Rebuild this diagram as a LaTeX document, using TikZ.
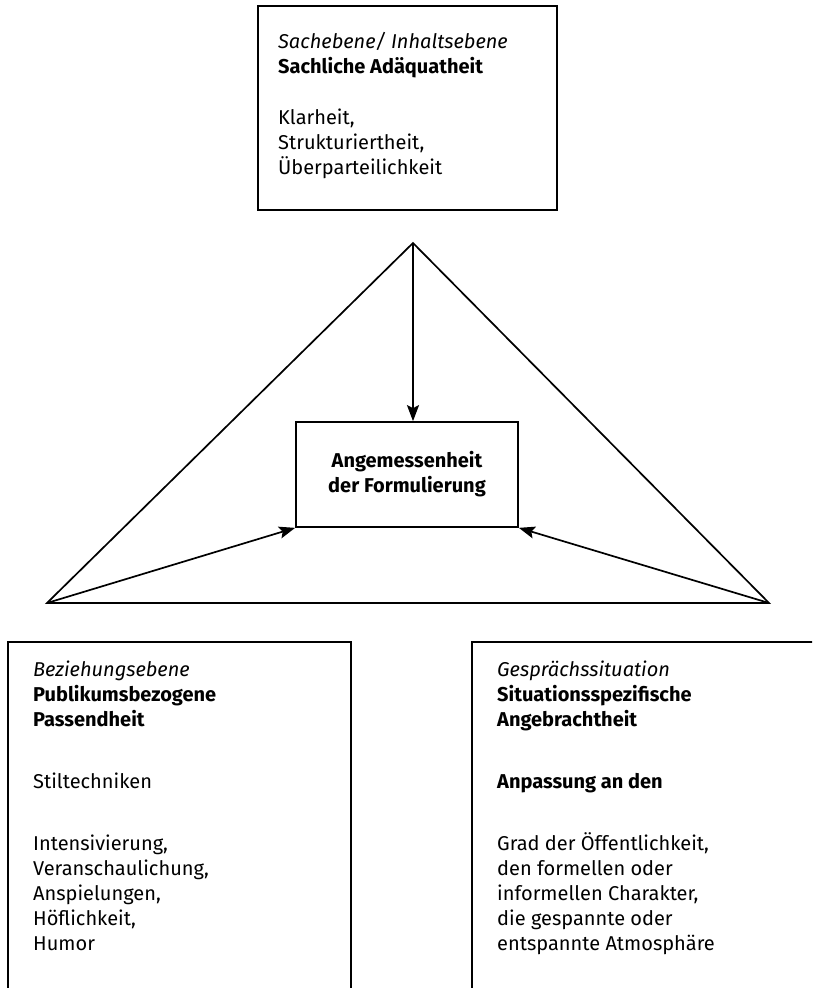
\documentclass[tikz,border=0pt]{standalone}
\usepackage{fontspec}
\setmainfont{Fira Sans}
\usetikzlibrary{arrows.meta}
\begin{document}
\begin{tikzpicture}[x=1pt,y=-1pt,
  frame/.style={draw, line width=1.7pt},
  body/.style={inner sep=0pt, align=left, anchor=north west,
    font=\fontsize{20}{25}\selectfont},
  edge/.style={line width=1.7pt},
  arr/.style={line width=1.7pt, -{Stealth[length=16pt,width=12pt,inset=3pt]}}]
\useasboundingbox (0,0) rectangle (812,988);
\clip (0,0) rectangle (812,988);

% top box: Sachebene
\draw[frame] (258,6) rectangle (557,210);
\node[body] (top) at (278,32) {\textit{Sachebene/ Inhaltsebene}\\
  \textbf{Sachliche Adäquatheit}\\[26pt]
  Klarheit,\\
  Strukturiertheit,\\
  Überparteilichkeit};

% triangle
\coordinate (apex) at (413,243);
\coordinate (bl) at (47,603);
\coordinate (br) at (769,603);
\draw[edge, line join=miter] (apex) -- (bl) -- (br) -- cycle;

% central box
\node[frame, minimum width=222pt, minimum height=105pt, inner sep=0pt,
  align=center, font=\fontsize{20}{25}\selectfont\bfseries]
  (mid) at (407,474.5) {Angemessenheit\\der Formulierung};

\draw[arr] (apex) -- (apex |- mid.north);
\draw[arr] (bl) -- (mid.south west);
\draw[arr] (br) -- (mid.south east);

% lower left box: Beziehungsebene (open below)
\draw[frame] (8,1010) -- (8,642) -- (351,642) -- (351,1010);
\node[body] (left) at (33,661) {\textit{Beziehungsebene}\\
  \textbf{Publikumsbezogene}\\
  \textbf{Passendheit}\\[37pt]
  Stiltechniken\\[37pt]
  Intensivierung,\\
  Veranschaulichung,\\
  Anspielungen,\\
  Höflichkeit,\\
  Humor};

% lower right box: Gesprächssituation (open below and right)
\draw[frame] (472,1010) -- (472,642) -- (830,642);
\node[body] (right) at (497,661) {\textit{Gesprächssituation}\\
  \textbf{Situationsspezifische}\\
  \textbf{Angebrachtheit}\\[37pt]
  \textbf{Anpassung an den}\\[37pt]
  Grad der Öffentlichkeit,\\
  den formellen oder\\
  informellen Charakter,\\
  die gespannte oder\\
  entspannte Atmosphäre};
\end{tikzpicture}
\end{document}
